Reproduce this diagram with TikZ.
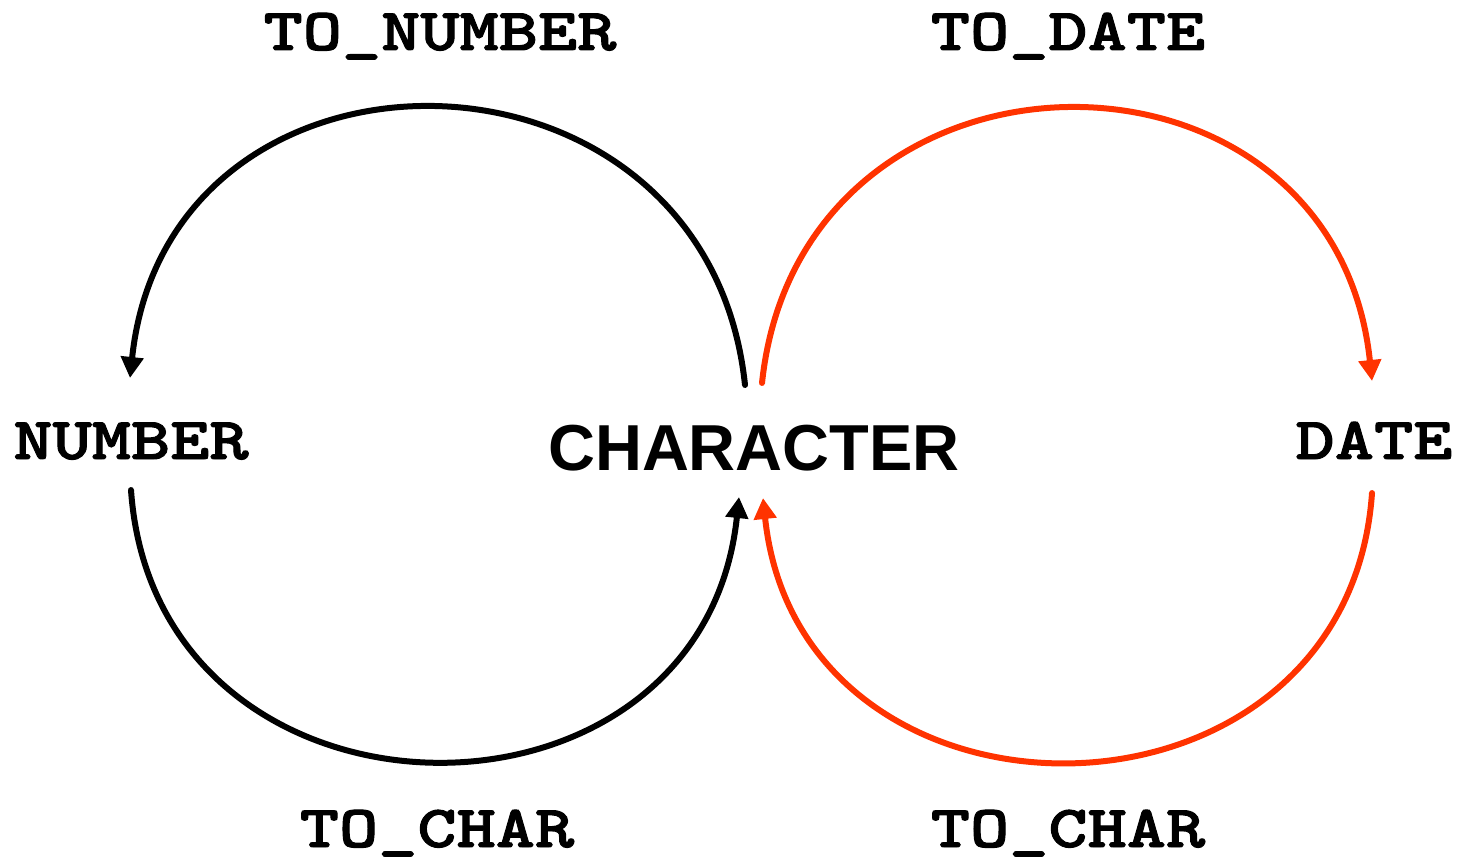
\documentclass[tikz,border=0pt]{standalone}
\usepackage{fontspec}
\setsansfont{Liberation Sans}
\newfontfamily\typefont{lmmonolt10-bold.otf}[FakeStretch=1.25,FakeBold=1.6]
\usepackage{xcolor}
\usetikzlibrary{arrows.meta}
\definecolor{convred}{RGB}{255,51,0}
\tikzstyle{dtype}=[inner sep=0pt, anchor=base, font=\typefont\fontsize{34}{40}\selectfont]
\tikzstyle{func}=[dtype]
\tikzstyle{chartype}=[inner sep=0pt, anchor=base, font=\sffamily\bfseries\fontsize{37}{42}\selectfont]
\tikzstyle{arrow}=[-{Triangle[length=0.42cm,width=0.44cm]}, line width=0.12cm, line cap=round]

\begin{document}
\begin{tikzpicture}[x=0.02cm,y=0.02cm]
\useasboundingbox (0,0) rectangle (1459,867);
\node (chr) [chartype] at (754,397) {CHARACTER};
\node (num) [dtype] at (131,408) {NUMBER};
\node (date) [dtype] at (1374,408) {DATE};
\node (tonum) [func] at (440,817) {TO\_NUMBER};
\node (todate) [func] at (1068,817) {TO\_DATE};
\node (tochar1) [func] at (437,20) {TO\_CHAR};
\node (tochar2) [func] at (1068,20) {TO\_CHAR};

\draw[arrow] ([shift={(-9,85)}]chr.base) to[out=96,in=84,looseness=1.52] ([shift={(-1,81)}]num.base);
\draw[arrow] ([shift={(0,-31)}]num.base) to[out=274,in=264,looseness=1.5] ([shift={(-15,-27)}]chr.base);
\draw[arrow,convred] ([shift={(8,87)}]chr.base) to[out=84,in=96,looseness=1.53] ([shift={(-2,78)}]date.base);
\draw[arrow,convred] ([shift={(-2,-34)}]date.base) to[out=266,in=276,looseness=1.49] ([shift={(9,-28)}]chr.base);
\end{tikzpicture}
\end{document}
